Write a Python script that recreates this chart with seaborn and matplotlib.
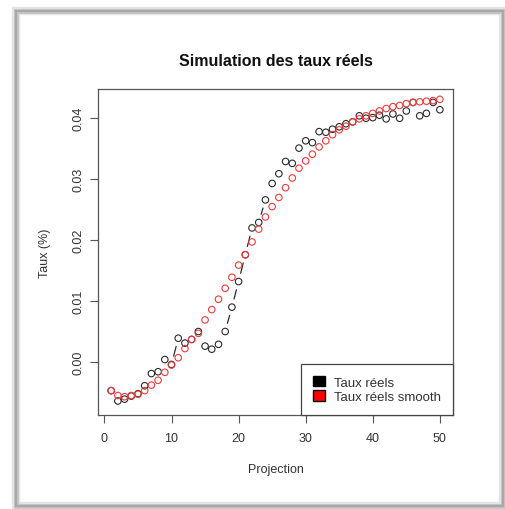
import numpy as np
import pandas as pd
import matplotlib
matplotlib.use("Agg")
import matplotlib.pyplot as plt
from matplotlib.patches import Patch, Rectangle
import seaborn as sns

# ---------------- data ----------------
projection = list(range(1, 51))
taux_reels = [-0.0047, -0.0064, -0.0061, -0.0056, -0.0052, -0.0039, -0.0019, -0.0016, 0.0004, -0.0004,
              0.0039, 0.0031, 0.0037, 0.0050, 0.0026, 0.0021, 0.0029, 0.0050, 0.0090, 0.0132,
              0.0176, 0.0220, 0.0229, 0.0266, 0.0293, 0.0309, 0.0329, 0.0326, 0.0351, 0.0363,
              0.0360, 0.0378, 0.0377, 0.0382, 0.0386, 0.0391, 0.0394, 0.0404, 0.0400, 0.0401,
              0.0405, 0.0399, 0.0407, 0.0400, 0.0412, 0.0426, 0.0404, 0.0408, 0.0426, 0.0414]
taux_smooth = [-0.0047, -0.0055, -0.0057, -0.0055, -0.0053, -0.0047, -0.0038, -0.0030, -0.0017, -0.0005,
               0.0007, 0.0022, 0.0037, 0.0047, 0.0069, 0.0086, 0.0103, 0.0121, 0.0139, 0.0159,
               0.0176, 0.0197, 0.0218, 0.0238, 0.0255, 0.0270, 0.0286, 0.0302, 0.0318, 0.0330,
               0.0341, 0.0353, 0.0363, 0.0373, 0.0381, 0.0387, 0.0394, 0.0399, 0.0404, 0.0408,
               0.0412, 0.0416, 0.0419, 0.0421, 0.0424, 0.0426, 0.0427, 0.0428, 0.0429, 0.0431]
x_ticks = [0, 10, 20, 30, 40, 50]
y_ticks = [0.00, 0.01, 0.02, 0.03, 0.04]
y_tick_labels = ["0.00", "0.01", "0.02", "0.03", "0.04"]
legend_labels = ["Taux réels", "Taux réels smooth"]
title = "Simulation des taux réels"
xlabel = "Projection"
ylabel = "Taux (%)"

df_reel = pd.DataFrame({"x": projection, "y": taux_reels})
df_smooth = pd.DataFrame({"x": projection, "y": taux_smooth})

# ---------------- style ----------------
sns.set_style("white")
plt.rcParams["font.family"] = ["Liberation Sans", "DejaVu Sans"]
TXT = "#333333"

W, H = 506, 510
fig = plt.figure(figsize=(W / 100, H / 100), dpi=100)
fig.patch.set_facecolor("white")

# screenshot frame with soft shadow
for lw, col in [(6, "#e4e4e4"), (3.5, "#c4c4c4"), (1.5, "#a8a8a8")]:
    fig.patches.append(Rectangle((16 / W, 3 / H), (503 - 16) / W, (498 - 3) / H,
                                 transform=fig.transFigure, fill=False,
                                 edgecolor=col, linewidth=lw, zorder=0))

ax = fig.add_axes([98 / W, 1 - 416 / H, (453 - 98) / W, (416 - 90) / H])
ax.set_facecolor("white")
ax.set_xlim(-0.96, 51.96)
ax.set_ylim(-0.0087, 0.0448)

BLACK = "#2a2a2a"
RED = "#ee3b3b"

# type="b" style connecting segments with gaps around points
gap = 8.5
pts = ax.transData.transform(np.column_stack([projection, taux_reels]))
inv = ax.transData.inverted()
for p0, p1 in zip(pts[:-1], pts[1:]):
    d = p1 - p0
    L = np.hypot(*d)
    if L > 2 * gap + 1:
        u = d / L
        a = inv.transform(p0 + u * gap)
        b = inv.transform(p1 - u * gap)
        ax.plot([a[0], b[0]], [a[1], b[1]], color=BLACK, lw=0.9, zorder=2)

sns.scatterplot(data=df_reel, x="x", y="y", ax=ax, marker="o", s=22,
                facecolor="none", edgecolor=BLACK, linewidth=0.8, zorder=3, legend=False)
sns.scatterplot(data=df_smooth, x="x", y="y", ax=ax, marker="o", s=22,
                facecolor="none", edgecolor=RED, linewidth=0.8, zorder=4, legend=False)

for sp in ax.spines.values():
    sp.set_color("#555555")
    sp.set_linewidth(0.9)

ax.set_xticks(x_ticks)
ax.set_yticks(y_ticks)
ax.set_yticklabels(y_tick_labels, rotation=90, va="center")
ax.tick_params(axis="both", direction="out", length=6, width=0.8, color="#555555",
               labelsize=9, labelcolor=TXT, left=True, bottom=True)
ax.tick_params(axis="x", pad=6)
ax.tick_params(axis="y", pad=4)

ax.set_xlabel(xlabel, fontsize=9, color=TXT, labelpad=14)
ax.set_ylabel(ylabel, fontsize=9, color=TXT, labelpad=15)
ax.set_title(title, fontsize=11.5, fontweight="bold", color="#111111", pad=17)

handles = [Patch(facecolor="black", edgecolor="black"),
           Patch(facecolor="red", edgecolor="black")]
leg = ax.legend(handles, legend_labels, loc="lower right", bbox_to_anchor=(1, 0),
                borderaxespad=0, fancybox=False, framealpha=1, fontsize=9.5,
                handlelength=0.9, handleheight=0.8, handletextpad=0.7,
                borderpad=0.9, labelspacing=0.12, labelcolor=TXT)
leg.get_frame().set_edgecolor("#444444")
leg.get_frame().set_linewidth(0.9)

fig.savefig("out.png", dpi=100)
